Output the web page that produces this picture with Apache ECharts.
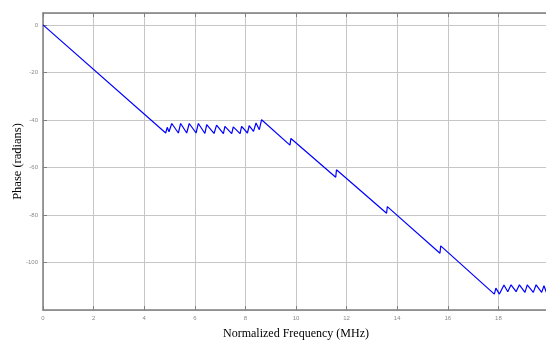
<!DOCTYPE html>
<html>
<head>
<meta charset="utf-8">
<script src="https://cdn.jsdelivr.net/npm/echarts@6/dist/echarts.min.js"></script>
<style>
html,body{margin:0;padding:0;background:#fff;}
#chart{width:546px;height:340px;}
</style>
</head>
<body>
<div id="chart"></div>
<script>
// Normalized frequency (MHz) sample points
const freq = [
  0, 4.85, 4.91, 4.98, 5.09, 5.35, 5.44, 5.68, 5.78, 6.05, 6.14, 6.40, 6.47,
  6.76, 6.86, 7.13, 7.19, 7.46, 7.52, 7.79, 7.85, 8.08, 8.15, 8.32, 8.42, 8.55, 8.64,
  9.76, 9.80, 11.57, 11.60, 13.58, 13.61, 15.69, 15.72,
  17.84, 17.90, 18.04, 18.22, 18.37, 18.50, 18.70, 18.83, 19.05, 19.14, 19.38, 19.49,
  19.71, 19.80, 19.90
];
// Phase (radians) at those points
const phase = [
  0, -45.5, -43.1, -45.0, -41.5, -45.5, -41.5, -45.5, -41.5, -45.5, -41.5, -45.7, -42.0,
  -45.7, -42.2, -45.8, -42.7, -45.8, -42.9, -45.8, -42.7, -45.5, -42.4, -44.8, -41.3, -44.1, -39.9,
  -50.6, -47.8, -64.1, -61.0, -79.3, -76.5, -96.1, -93.0,
  -113.3, -110.8, -113.3, -109.5, -112.3, -109.4, -112.3, -109.4, -112.6, -109.4, -112.6, -109.4,
  -112.6, -109.8, -112.6
];
const xTicks = [0, 2, 4, 6, 8, 10, 12, 14, 16, 18];
const yTicks = [0, -20, -40, -60, -80, -100];

const points = freq.map((f, i) => [f, phase[i]]);
const axisGray = '#7f7f7f';
const gridGray = '#c6c6c6';
const labelStyle = {fontSize: 6, color: '#8a8a8a', fontFamily: 'Liberation Sans, Arial, sans-serif'};

const chart = echarts.init(document.getElementById('chart'), null, {renderer: 'canvas'});
chart.setOption({
  animation: false,
  backgroundColor: '#ffffff',
  grid: {left: 43, top: 13, width: 506, height: 297, containLabel: false, outerBoundsMode: 'none'},
  xAxis: [{
    type: 'value', min: 0, max: 20, interval: 2, position: 'bottom',
    name: 'Normalized Frequency (MHz)', nameLocation: 'middle', nameGap: 18,
    nameTextStyle: {fontFamily: 'Liberation Serif, Times New Roman, serif', fontSize: 12, color: '#000'},
    axisLine: {show: true, onZero: false, lineStyle: {color: axisGray, width: 1.5}},
    axisTick: {show: true, inside: true, length: 4, lineStyle: {color: axisGray}},
    axisLabel: Object.assign({margin: 5, showMaxLabel: false,
      formatter: v => xTicks.indexOf(v) >= 0 ? String(v) : ''}, labelStyle),
    splitLine: {show: true, lineStyle: {color: gridGray, width: 1}}
  }, {
    type: 'value', min: 0, max: 20, interval: 2, position: 'top',
    axisLine: {show: true, onZero: false, lineStyle: {color: axisGray, width: 1.5}},
    axisTick: {show: true, inside: true, length: 4, lineStyle: {color: axisGray}},
    axisLabel: {show: false},
    splitLine: {show: false}
  }],
  yAxis: [{
    type: 'value', min: -120, max: 5, interval: 20,
    name: 'Phase (radians)', nameLocation: 'middle', nameGap: 19, nameMoveOverlap: false,
    nameTextStyle: {fontFamily: 'Liberation Serif, Times New Roman, serif', fontSize: 12.5, color: '#000'},
    axisLine: {show: true, onZero: false, lineStyle: {color: axisGray, width: 1.5}},
    axisTick: {show: true, inside: true, length: 4, lineStyle: {color: axisGray}},
    axisLabel: Object.assign({margin: 5, showMinLabel: false, showMaxLabel: false,
      formatter: v => yTicks.indexOf(v) >= 0 ? String(v) : ''}, labelStyle),
    splitLine: {show: true, lineStyle: {color: gridGray, width: 1}}
  }],
  series: [{
    type: 'line', data: points, xAxisIndex: 0, yAxisIndex: 0,
    showSymbol: false, symbol: 'none', clip: true,
    lineStyle: {color: '#0000ff', width: 1.2}
  }]
});
</script>
</body>
</html>
